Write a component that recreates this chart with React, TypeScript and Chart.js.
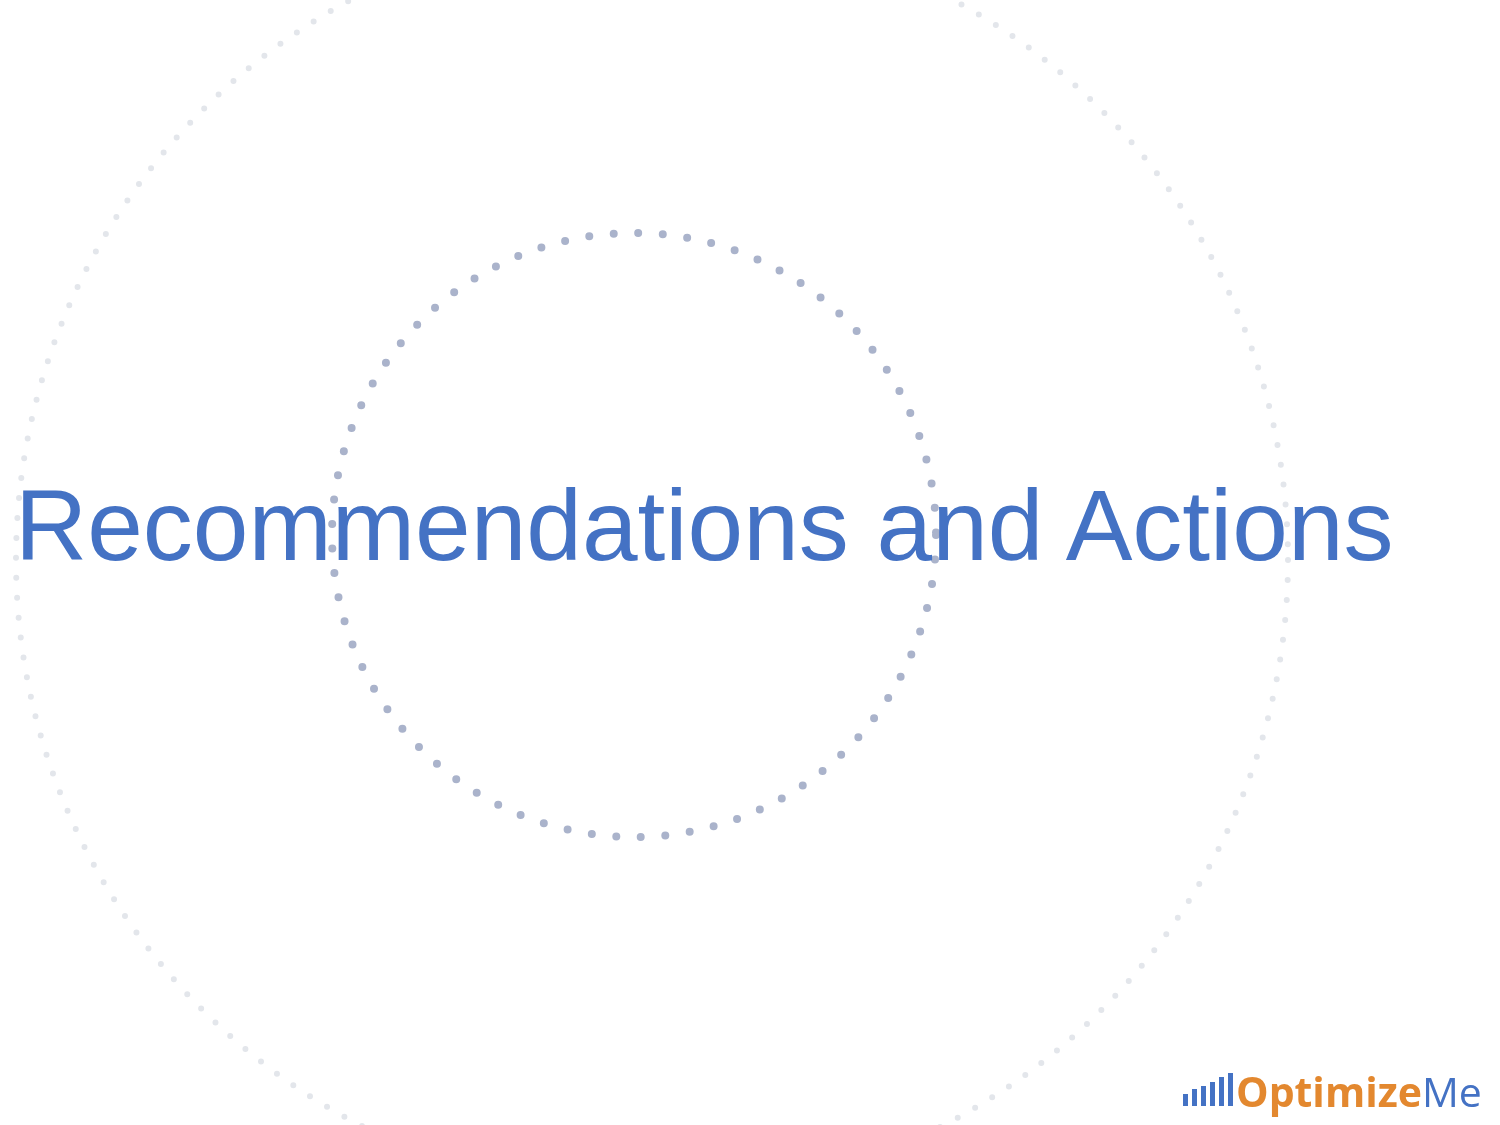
import { useEffect, useRef } from "react"
import { Chart, registerables } from "chart.js"

Chart.register(...registerables)

// decorative dotted rings (slide coordinates, px)
const ringNames = ["Outer ring", "Inner ring"]
const ringX = [652, 634]
const ringY = [560, 535]
const ringR = [636, 302]
const ringColors = ["#e3e6eb", "#aab3cb"]
const ringDotSize = [6, 8]
const ringDotGap = [20, 24.6]

const titleText = "Recommendations and Actions"
const logoBold = "Optimize"
const logoLight = "Me"
const logoBarHeights = [12, 17, 20, 24, 29, 33]

const BLUE = "#4472c4"
const ORANGE = "#e3882f"

const dottedRings = {
  id: "dottedRings",
  beforeDatasetDraw(chart: any, args: any) {
    const i = args.index
    const ctx = chart.ctx
    ctx.save()
    ctx.lineCap = "round"
    ctx.setLineDash([0, ringDotGap[i]])
  },
  afterDatasetDraw(chart: any) {
    chart.ctx.restore()
  },
}

export default function App() {
  const chartRef = useRef<HTMLCanvasElement>(null)
  const chartInstance = useRef<Chart | null>(null)

  useEffect(() => {
    document.body.style.margin = "0"
    if (chartRef.current) {
      if (chartInstance.current) {
        chartInstance.current.destroy()
      }
      const ctx = chartRef.current.getContext("2d")
      if (ctx) {
        chartInstance.current = new Chart(ctx, {
          type: "bubble",
          data: {
            datasets: ringNames.map((name, i) => ({
              label: name,
              data: [{ x: ringX[i], y: ringY[i], r: ringR[i] }],
              backgroundColor: "rgba(0,0,0,0)",
              borderColor: ringColors[i],
              borderWidth: ringDotSize[i],
              hoverBorderWidth: ringDotSize[i],
              clip: false as any,
            })),
          },
          options: {
            animation: false,
            responsive: true,
            maintainAspectRatio: false,
            events: [],
            layout: { padding: 0, autoPadding: false },
            scales: {
              x: { type: "linear", min: 0, max: 1500, display: false },
              y: { type: "linear", min: 0, max: 1125, reverse: true, display: false },
            },
            plugins: {
              legend: { display: false },
              tooltip: { enabled: false },
              title: { display: false },
            },
          },
          plugins: [dottedRings],
        })
      }
    }

    return () => {
      if (chartInstance.current) {
        chartInstance.current.destroy()
        chartInstance.current = null
      }
    }
  }, [])

  return (
    <div
      style={{
        position: "relative",
        width: 1500,
        height: 1125,
        overflow: "hidden",
        background: "#ffffff",
      }}
    >
      <div style={{ position: "absolute", left: 0, top: 0, width: 1500, height: 1125 }}>
        <canvas ref={chartRef}></canvas>
      </div>
      <div
        style={{
          position: "absolute",
          left: 15,
          top: 475,
          fontFamily: "'Liberation Sans', Arial, sans-serif",
          fontSize: 100,
          lineHeight: "100px",
          color: BLUE,
          whiteSpace: "nowrap",
        }}
      >
        {titleText}
      </div>
      {/* logo */}
      <div
        style={{
          position: "absolute",
          left: 1183,
          top: 1066,
          height: 40,
          display: "flex",
          alignItems: "flex-end",
          gap: 4,
        }}
      >
        {logoBarHeights.map((h, i) => (
          <div key={i} style={{ width: 5, height: h, background: BLUE }} />
        ))}
      </div>
      <div
        style={{
          position: "absolute",
          left: 1236,
          top: 1069,
          whiteSpace: "nowrap",
          fontFamily: "'Open Sans', sans-serif",
          fontSize: 41,
          lineHeight: "44px",
        }}
      >
        <span style={{ color: ORANGE, fontWeight: 700 }}>{logoBold}</span>
        <span style={{ color: BLUE, fontWeight: 400 }}>{logoLight}</span>
      </div>
    </div>
  )
}
